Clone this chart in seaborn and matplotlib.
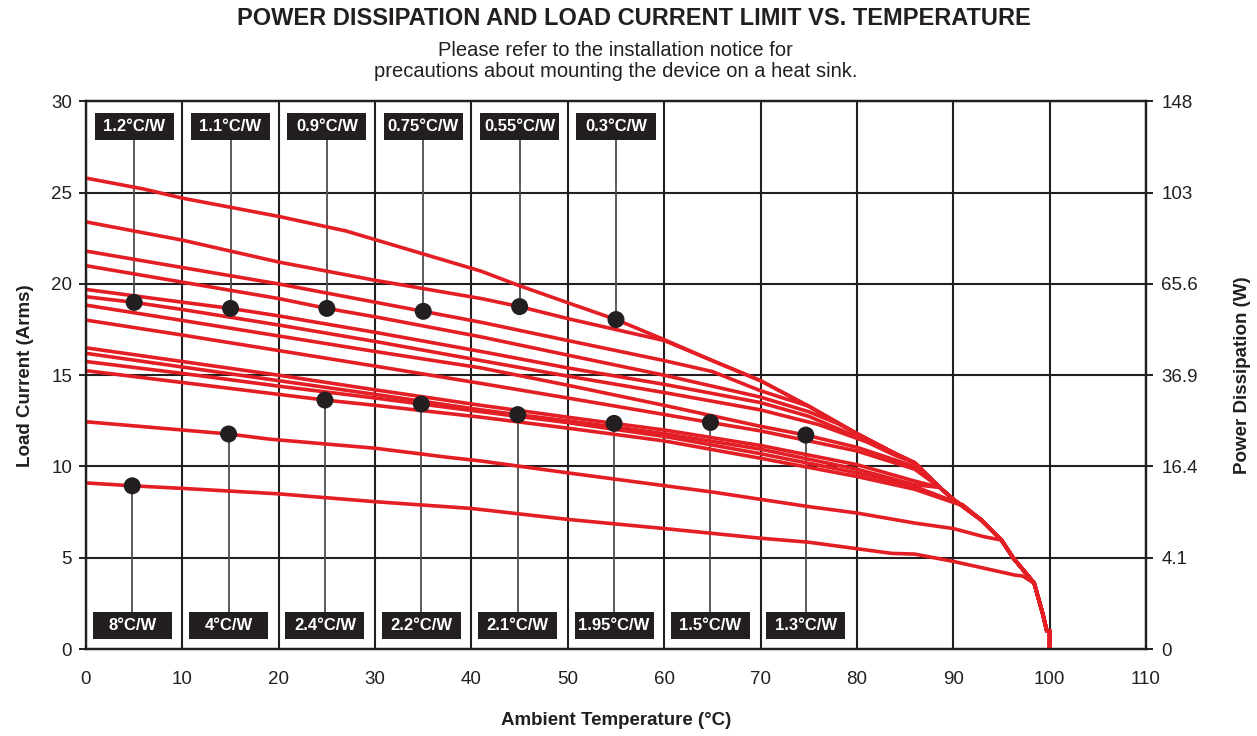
import numpy as np
import pandas as pd
import matplotlib
matplotlib.use("Agg")
import matplotlib.pyplot as plt
from matplotlib.patches import Rectangle
import seaborn as sns

# ---------------- data ----------------
# shared high-temperature envelope (also the 0.3 °C/W curve)
envelope_x = [0, 6, 10, 20, 27, 34, 41, 45, 50, 55, 60, 65, 70, 75, 80, 84, 86, 88.6, 90, 92.9, 95, 96.2, 98.4, 99.3, 99.7, 100, 100]
envelope_y = [25.8, 25.2, 24.7, 23.7, 22.9, 21.8, 20.7, 19.9, 18.97, 18.05, 16.95, 15.8, 14.7, 13.3, 11.8, 10.7, 10.2, 8.85, 8.2, 7.07, 5.97, 5.0, 3.6, 1.9, 1.0, 1.0, 0.0]

c030_x = []
c030_y = []
c055_x = [0, 10, 20, 30, 41, 45, 50, 55, 60]
c055_y = [23.4, 22.4, 21.2, 20.2, 19.2, 18.76, 18.1, 17.5, 16.9]
c075_x = [0, 10, 20, 30, 35, 41, 50, 60, 65, 70]
c075_y = [21.8, 20.9, 20.0, 19.0, 18.5, 17.9, 16.9, 15.8, 15.2, 14.15]
c090_x = [0, 10, 20, 25, 30, 41, 50, 60, 70, 75, 78]
c090_y = [21.0, 20.1, 19.2, 18.66, 18.2, 17.1, 16.1, 15.0, 13.8, 13.0, 12.35]
c110_x = [0, 10, 15, 20, 30, 41, 50, 60, 70, 75, 81]
c110_y = [19.7, 19.0, 18.66, 18.25, 17.35, 16.3, 15.4, 14.5, 13.5, 12.75, 11.4]
c120_x = [0, 5, 10, 20, 30, 41, 50, 60, 70, 76, 81, 84]
c120_y = [19.3, 18.99, 18.6, 17.75, 16.85, 15.8, 14.95, 14.05, 13.1, 12.3, 11.35, 10.6]
c130_x = [0, 10, 20, 30, 41, 50, 60, 70, 74.7, 80, 86]
c130_y = [18.84, 18.0, 17.15, 16.3, 15.4, 14.45, 13.35, 12.2, 11.72, 11.05, 10.0]
c150_x = [0, 10, 20, 30, 41, 50, 60, 64.8, 70, 80, 86]
c150_y = [18.02, 17.2, 16.35, 15.5, 14.55, 13.75, 12.85, 12.41, 11.95, 10.85, 9.85]
c195_x = [0, 10, 20, 30, 41, 50, 54.8, 60, 70, 80, 86]
c195_y = [16.5, 15.75, 15.0, 14.2, 13.35, 12.7, 12.36, 12.0, 11.15, 10.1, 9.2]
c210_x = [0, 10, 20, 30, 41, 44.8, 50, 60, 70, 80, 86]
c210_y = [16.2, 15.45, 14.7, 13.95, 13.1, 12.84, 12.5, 11.8, 10.95, 9.85, 9.0]
c220_x = [0, 10, 20, 30, 34.8, 41, 50, 60, 70, 80, 86, 91]
c220_y = [15.75, 15.1, 14.4, 13.75, 13.42, 13.0, 12.4, 11.65, 10.7, 9.65, 8.9, 7.9]
c240_x = [0, 10, 20, 24.8, 30, 41, 50, 60, 70, 80, 86, 91]
c240_y = [15.25, 14.6, 13.95, 13.64, 13.35, 12.7, 12.1, 11.4, 10.45, 9.45, 8.75, 7.85]
c400_x = [0, 14.8, 19, 30, 37.6, 41, 50, 65, 75, 80, 86, 90, 93.2]
c400_y = [12.45, 11.78, 11.5, 11.0, 10.5, 10.3, 9.65, 8.6, 7.8, 7.45, 6.9, 6.6, 6.15]
c800_x = [0, 4.8, 10, 20, 30, 40, 50, 60, 70, 75, 83.6, 86, 90, 96.4, 97.2]
c800_y = [9.1, 8.94, 8.8, 8.5, 8.07, 7.7, 7.1, 6.6, 6.07, 5.85, 5.24, 5.2, 4.8, 4.05, 4.0]

curve_names = ["0.3", "0.55", "0.75", "0.9", "1.1", "1.2", "1.3", "1.5",
               "1.95", "2.1", "2.2", "2.4", "4", "8"]
curve_parts = [(c030_x, c030_y), (c055_x, c055_y), (c075_x, c075_y), (c090_x, c090_y),
               (c110_x, c110_y), (c120_x, c120_y), (c130_x, c130_y), (c150_x, c150_y),
               (c195_x, c195_y), (c210_x, c210_y), (c220_x, c220_y), (c240_x, c240_y),
               (c400_x, c400_y), (c800_x, c800_y)]

top_labels = ["1.2°C/W", "1.1°C/W", "0.9°C/W", "0.75°C/W", "0.55°C/W", "0.3°C/W"]
top_dot_x = [5, 15, 25, 35, 45, 55]
top_dot_y = [18.99, 18.66, 18.66, 18.5, 18.76, 18.05]
bottom_labels = ["8°C/W", "4°C/W", "2.4°C/W", "2.2°C/W", "2.1°C/W", "1.95°C/W", "1.5°C/W", "1.3°C/W"]
bottom_dot_x = [4.8, 14.8, 24.8, 34.8, 44.8, 54.8, 64.8, 74.7]
bottom_dot_y = [8.94, 11.78, 13.64, 13.42, 12.84, 12.36, 12.41, 11.72]

x_ticks = [0, 10, 20, 30, 40, 50, 60, 70, 80, 90, 100, 110]
y_ticks = [0, 5, 10, 15, 20, 25, 30]
power_labels = ["0", "4.1", "16.4", "36.9", "65.6", "103", "148"]

# ---------------- build long table ----------------
rows = []
for name, (px, py) in zip(curve_names, curve_parts):
    last = px[-1] if px else -1
    xs = list(px) + [ex for ex in envelope_x if ex > last]
    ys = list(py) + [ey for ex, ey in zip(envelope_x, envelope_y) if ex > last]
    for i, (a, b) in enumerate(zip(xs, ys)):
        rows.append({"curve": name, "order": i, "temp": a, "current": b})
df = pd.DataFrame(rows)

# ---------------- style ----------------
sns.set_theme(style="white")
plt.rcParams["font.family"] = ["Liberation Sans", "DejaVu Sans"]
INK = "#231F20"
RED = "#E31E24"

fig = plt.figure(figsize=(12.57, 7.36), dpi=100)
ax = fig.add_axes([0.0684, 0.1182, 0.8433, 0.744])

sns.lineplot(data=df, x="temp", y="current", units="curve", estimator=None,
             sort=False, color=RED, lw=2.6, ax=ax, legend=False, zorder=3)

ax.set_xlim(0, 110)
ax.set_ylim(0, 30)
ax.set_xticks(x_ticks)
ax.set_yticks(y_ticks)
ax.grid(True, color=INK, lw=1.5, zorder=0)
ax.set_axisbelow(True)
for s in ax.spines.values():
    s.set_color(INK)
    s.set_linewidth(1.6)
ax.tick_params(axis="x", length=0, pad=16, labelsize=13.5, colors=INK)
ax.tick_params(axis="y", length=5, width=1.4, pad=5, labelsize=13.5, colors=INK, left=True)
ax.set_xlabel("Ambient Temperature (°C)", fontsize=13.5, fontweight="bold", color=INK, labelpad=17)
ax.set_ylabel("Load Current (Arms)", fontsize=13.5, fontweight="bold", color=INK, labelpad=12)

ax2 = ax.twinx()
ax2.set_ylim(0, 30)
ax2.set_yticks(y_ticks)
ax2.set_yticklabels(power_labels)
ax2.tick_params(axis="y", length=5, width=1.4, pad=6, labelsize=13.5, colors=INK, right=True)
ax2.set_ylabel("Power Dissipation (W)", fontsize=13.5, fontweight="bold", color=INK, labelpad=26)
ax2.grid(False)
for s in ax2.spines.values():
    s.set_color(INK)
    s.set_linewidth(1.6)

# label boxes, connectors and dots
box_w, box_h = 8.2, 1.46
top_box_y0, bot_box_y0 = 27.9, 0.55
ax.vlines(top_dot_x, top_dot_y, top_box_y0, color="#4D4D4D", lw=1.3, zorder=2)
ax.vlines(bottom_dot_x, bot_box_y0 + box_h, bottom_dot_y, color="#4D4D4D", lw=1.3, zorder=2)
sns.scatterplot(x=top_dot_x + bottom_dot_x, y=top_dot_y + bottom_dot_y, s=150,
                color=INK, edgecolor="none", ax=ax, zorder=6, legend=False)
for lab, x in zip(top_labels, top_dot_x):
    ax.add_patch(Rectangle((x - box_w / 2, top_box_y0), box_w, box_h, fc=INK, ec="none", zorder=7))
    ax.text(x, top_box_y0 + box_h / 2, lab, color="white", ha="center", va="center",
            fontsize=12, fontweight="bold", zorder=8)
for lab, x in zip(bottom_labels, bottom_dot_x):
    ax.add_patch(Rectangle((x - box_w / 2, bot_box_y0), box_w, box_h, fc=INK, ec="none", zorder=7))
    ax.text(x, bot_box_y0 + box_h / 2, lab, color="white", ha="center", va="center",
            fontsize=12, fontweight="bold", zorder=8)

fig.text(0.504, 0.975, "POWER DISSIPATION AND LOAD CURRENT LIMIT VS. TEMPERATURE",
         ha="center", va="center", fontsize=17, fontweight="bold", color=INK)
fig.text(0.49, 0.917, "Please refer to the installation notice for\nprecautions about mounting the device on a heat sink.",
         ha="center", va="center", fontsize=14.5, color=INK, linespacing=1.15)

fig.savefig("out.png", dpi=100)
